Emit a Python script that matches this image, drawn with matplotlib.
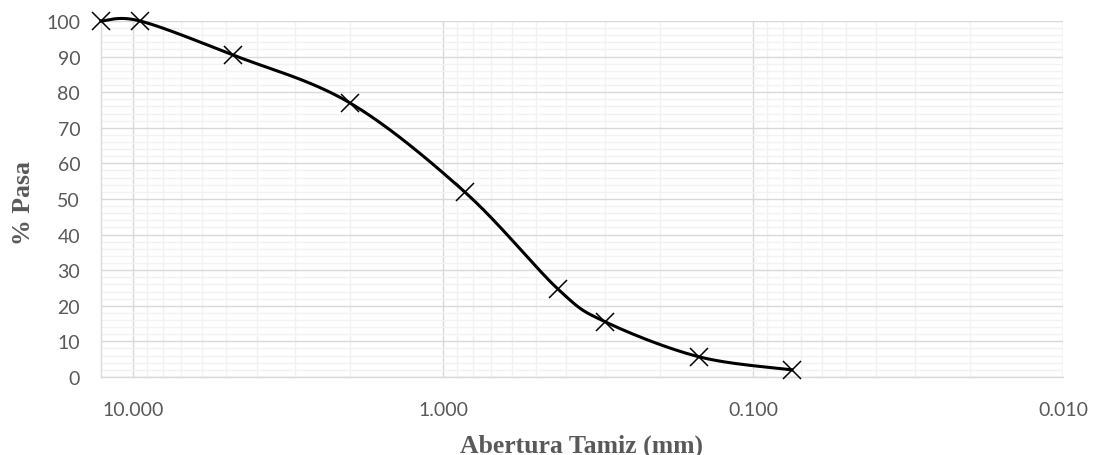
import numpy as np
import matplotlib
matplotlib.use("Agg")
import matplotlib.pyplot as plt
from matplotlib.ticker import FixedLocator, NullFormatter

# sieve openings (mm) and percent passing
abertura = [12.7, 9.5, 4.75, 2.0, 0.85, 0.425, 0.3, 0.15, 0.075]
pasa = [100.0, 100.0, 90.4, 77.0, 51.9, 24.6, 15.5, 5.7, 2.0]

x_major = [10, 1, 0.1, 0.01]
x_labels = ["10.000", "1.000", "0.100", "0.010"]

GRID_MAJ = "#d9d9d9"
GRID_MIN = "#f2f2f2"
TXT = "#595959"


def smooth(xs, ys, n=40):
    # Excel-style smoothed line: Catmull-Rom bezier in (log x, y) space
    lx = np.log10(xs)
    p = np.column_stack([lx, ys])
    out = []
    for i in range(len(p) - 1):
        p0 = p[i - 1] if i > 0 else p[i]
        p1, p2 = p[i], p[i + 1]
        p3 = p[i + 2] if i + 2 < len(p) else p[i + 1]
        c1 = p1 + (p2 - p0) / 6
        c2 = p2 - (p3 - p1) / 6
        t = np.linspace(0, 1, n)[:, None]
        seg = ((1 - t) ** 3 * p1 + 3 * (1 - t) ** 2 * t * c1
               + 3 * (1 - t) * t ** 2 * c2 + t ** 3 * p2)
        out.append(seg if i == 0 else seg[1:])
    seg = np.vstack(out)
    return 10 ** seg[:, 0], seg[:, 1]


fig = plt.figure(figsize=(10.93, 4.56), dpi=100)
ax = fig.add_axes([0.0924, 0.1711, 0.8802, 0.7807])

ax.set_xscale("log")
ax.set_xlim(12.7, 0.01)
ax.set_ylim(0, 100)

minors = [m * 10.0 ** e for e in (-2, -1, 0) for m in range(2, 10)]
ax.xaxis.set_major_locator(FixedLocator(x_major))
ax.set_xticklabels(x_labels)
ax.xaxis.set_minor_locator(FixedLocator(minors))
ax.xaxis.set_minor_formatter(NullFormatter())
ax.set_yticks(range(0, 101, 10))
ax.set_yticks(range(0, 101, 2), minor=True)

ax.grid(which="minor", color=GRID_MIN, linewidth=1.0)
ax.grid(which="major", color=GRID_MAJ, linewidth=1.0)
ax.set_axisbelow(True)
for s in ("top", "right"):
    ax.spines[s].set_visible(False)
for s in ("left", "bottom"):
    ax.spines[s].set_color(GRID_MAJ)
    ax.spines[s].set_linewidth(1.0)

ax.tick_params(which="both", length=0)
ax.tick_params(axis="x", pad=17, labelsize=14, labelcolor=TXT)
ax.tick_params(axis="y", pad=15, labelsize=14, labelcolor=TXT)
for lab in ax.get_xticklabels() + ax.get_yticklabels():
    lab.set_fontfamily("Lato")

sx, sy = smooth(abertura, pasa)
ax.plot(sx, sy, color="black", linewidth=2.2, clip_on=False, zorder=3)
ax.plot(abertura, pasa, linestyle="none", marker="x", markersize=12.5,
        markeredgewidth=1.1, color="black", clip_on=False, zorder=4)

ax.set_xlabel("Abertura Tamiz (mm)", fontfamily="Liberation Serif",
              fontweight="bold", fontsize=18.5, color=TXT)
ax.xaxis.set_label_coords(0.5, -0.1, transform=ax.transAxes)
ax.xaxis.label.set_va("center")
ax.xaxis.set_label_coords(582 / 1093, 1 - 446 / 456, transform=fig.transFigure)
ax.set_ylabel("% Pasa", fontfamily="Liberation Serif", fontweight="bold",
              fontsize=18.5, color=TXT)
ax.yaxis.label.set_va("center")
ax.yaxis.set_label_coords(23 / 1093, 1 - 203 / 456, transform=fig.transFigure)

fig.savefig("out.png", dpi=100)
